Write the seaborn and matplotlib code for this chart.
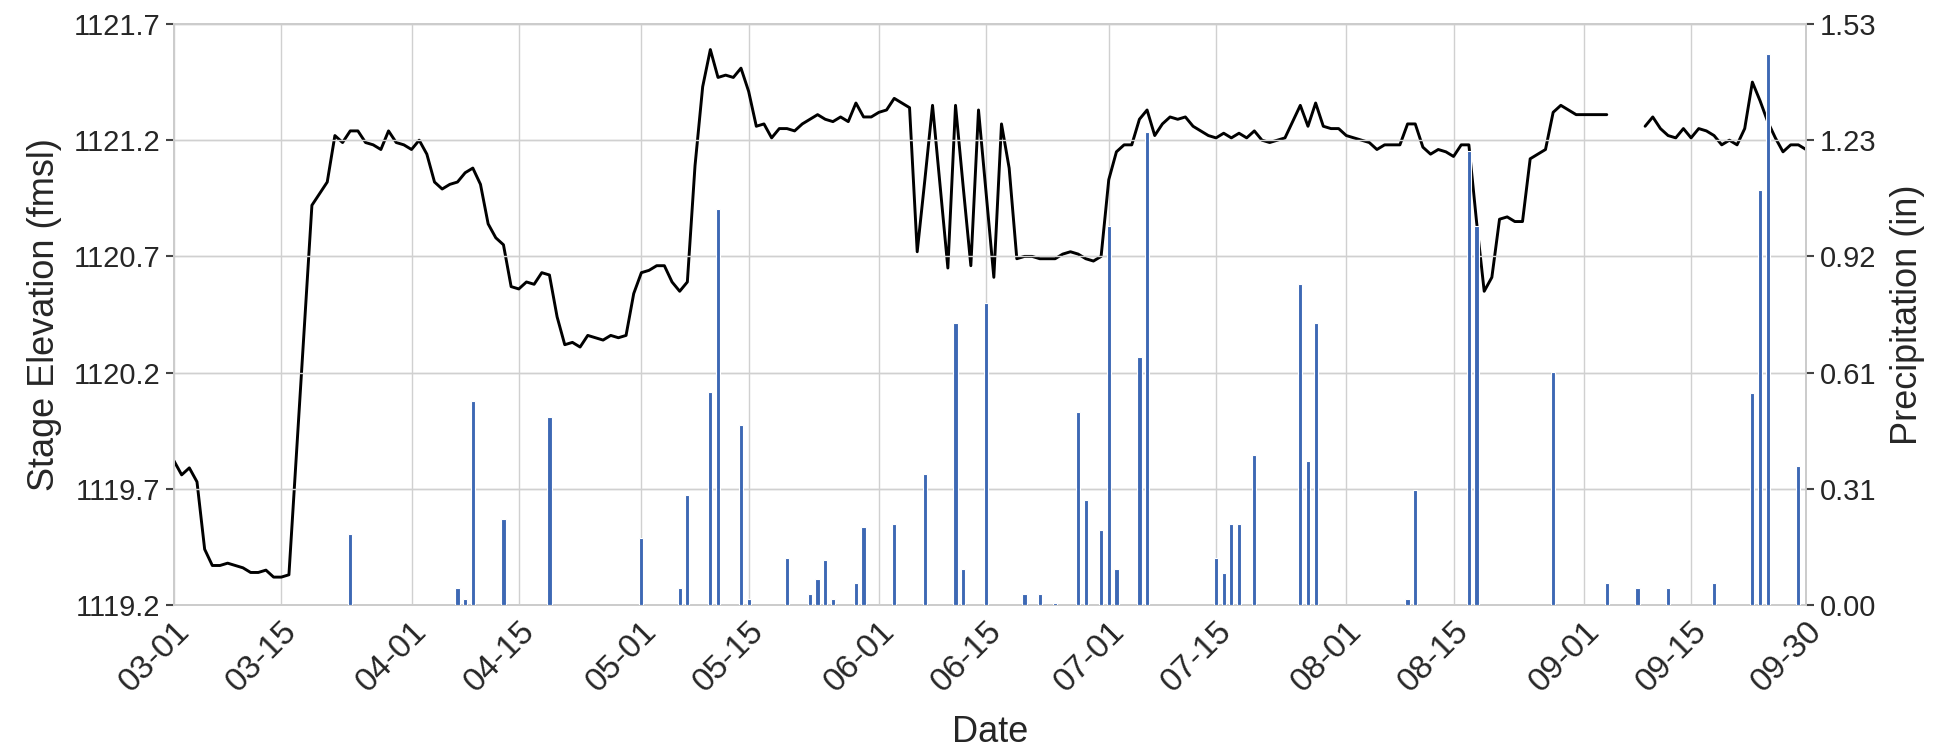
import numpy as np
import pandas as pd
import matplotlib
matplotlib.use("Agg")
import matplotlib.pyplot as plt
import seaborn as sns

# ---- data ----
start_date = "2021-03-01"
end_date = "2021-09-30"

stage_elev = [
    1119.82, 1119.76, 1119.79, 1119.73, 1119.44, 1119.37, 1119.37, 1119.38, 1119.37, 1119.36,
    1119.34, 1119.34, 1119.35, 1119.32, 1119.32, 1119.33, 1119.86, 1120.39, 1120.92, 1120.97,
    1121.02, 1121.22, 1121.19, 1121.24, 1121.24, 1121.19, 1121.18, 1121.16, 1121.24, 1121.19,
    1121.18, 1121.16, 1121.20, 1121.14, 1121.02, 1120.99, 1121.01, 1121.02, 1121.06, 1121.08,
    1121.01, 1120.84, 1120.78, 1120.75, 1120.57, 1120.56, 1120.59, 1120.58, 1120.63, 1120.62,
    1120.44, 1120.32, 1120.33, 1120.31, 1120.36, 1120.35, 1120.34, 1120.36, 1120.35, 1120.36,
    1120.54, 1120.63, 1120.64, 1120.66, 1120.66, 1120.59, 1120.55, 1120.59, 1121.09, 1121.43,
    1121.59, 1121.47, 1121.48, 1121.47, 1121.51, 1121.41, 1121.26, 1121.27, 1121.21, 1121.25,
    1121.25, 1121.24, 1121.27, 1121.29, 1121.31, 1121.29, 1121.28, 1121.30, 1121.28, 1121.36,
    1121.30, 1121.30, 1121.32, 1121.33, 1121.38, 1121.36, 1121.34, 1120.72, 1121.03, 1121.35,
    1121.00, 1120.65, 1121.35, 1121.00, 1120.66, 1121.33, 1120.97, 1120.61, 1121.27, 1121.08,
    1120.69, 1120.70, 1120.70, 1120.69, 1120.69, 1120.69, 1120.71, 1120.72, 1120.71, 1120.69,
    1120.68, 1120.70, 1121.03, 1121.15, 1121.18, 1121.18, 1121.29, 1121.33, 1121.22, 1121.27,
    1121.30, 1121.29, 1121.30, 1121.26, 1121.24, 1121.22, 1121.21, 1121.23, 1121.21, 1121.23,
    1121.21, 1121.24, 1121.20, 1121.19, 1121.20, 1121.21, 1121.28, 1121.35, 1121.26, 1121.36,
    1121.26, 1121.25, 1121.25, 1121.22, 1121.21, 1121.20, 1121.19, 1121.16, 1121.18, 1121.18,
    1121.18, 1121.27, 1121.27, 1121.17, 1121.14, 1121.16, 1121.15, 1121.13, 1121.18, 1121.18,
    1120.85, 1120.55, 1120.61, 1120.86, 1120.87, 1120.85, 1120.85, 1121.12, 1121.14, 1121.16,
    1121.32, 1121.35, 1121.33, 1121.31, 1121.31, 1121.31, 1121.31, 1121.31, np.nan, np.nan,
    np.nan, np.nan, 1121.26, 1121.30, 1121.25, 1121.22, 1121.21, 1121.25, 1121.21, 1121.25,
    1121.24, 1121.22, 1121.18, 1121.20, 1121.18, 1121.25, 1121.45, 1121.37, 1121.28, 1121.21,
    1121.15, 1121.18, 1121.18, 1121.16,
]

precip_dates = [
    "03-24", "04-07", "04-08", "04-09", "04-13", "04-19", "05-01", "05-06", "05-07", "05-10",
    "05-11", "05-14", "05-15", "05-20", "05-23", "05-24", "05-25", "05-26", "05-29", "05-30",
    "06-03", "06-07", "06-11", "06-12", "06-15", "06-20", "06-22", "06-24", "06-27", "06-28",
    "06-30", "07-01", "07-02", "07-05", "07-06", "07-15", "07-16", "07-17", "07-18", "07-20",
    "07-26", "07-27", "07-28", "08-09", "08-10", "08-17", "08-18", "08-28", "09-04", "09-08",
    "09-12", "09-18", "09-23", "09-24", "09-25", "09-29",
]
precip_in = [
    0.187, 0.045, 0.017, 0.538, 0.227, 0.498, 0.176, 0.045, 0.290, 0.564,
    1.045, 0.475, 0.017, 0.124, 0.029, 0.068, 0.119, 0.017, 0.058, 0.205,
    0.215, 0.346, 0.746, 0.095, 0.797, 0.029, 0.029, 0.006, 0.509, 0.278,
    0.199, 1.000, 0.095, 0.656, 1.249, 0.124, 0.085, 0.215, 0.215, 0.395,
    0.848, 0.381, 0.746, 0.017, 0.305, 1.199, 1.000, 0.615, 0.058, 0.045,
    0.045, 0.058, 0.559, 1.096, 1.456, 0.367,
]

elev_ticks = [1119.2, 1119.7, 1120.2, 1120.7, 1121.2, 1121.7]
precip_max = 1.535
precip_tick_labels = ["0.00", "0.31", "0.61", "0.92", "1.23", "1.53"]
x_tick_labels = ["03-01", "03-15", "04-01", "04-15", "05-01", "05-15", "06-01", "06-15",
                 "07-01", "07-15", "08-01", "08-15", "09-01", "09-15", "09-30"]

# ---- frames ----
dates = pd.date_range(start_date, end_date, freq="D")
df_elev = pd.DataFrame({"Date": dates, "Stage": stage_elev})
df_rain = pd.DataFrame({"Date": pd.to_datetime(["2021-" + d for d in precip_dates]),
                        "Precip": precip_in})

# ---- style ----
sns.set_theme(style="whitegrid")
plt.rcParams["font.family"] = ["Liberation Sans", "DejaVu Sans"]
plt.rcParams["axes.edgecolor"] = "#cccccc"
plt.rcParams["grid.color"] = "#d0d0d0"
TXT = "#262626"

fig = plt.figure(figsize=(19.5, 7.56), dpi=100)
ax = fig.add_axes([174 / 1950, 1 - 605 / 756, (1806 - 174) / 1950, (605 - 24) / 756])

valid = df_elev["Stage"].notna()
seg_id = (~valid).cumsum()
for _, seg in df_elev[valid].groupby(seg_id[valid]):
    sns.lineplot(data=seg, x="Date", y="Stage", ax=ax, color="black", linewidth=2.1)

ax.set_ylim(elev_ticks[0], elev_ticks[-1])
ax.set_yticks(elev_ticks)
ax.set_yticklabels([f"{t:.1f}" for t in elev_ticks])
ax.set_xlim(pd.Timestamp(start_date), pd.Timestamp(end_date))
xt = pd.to_datetime(["2021-" + d for d in x_tick_labels])
ax.set_xticks(xt)
ax.set_xticklabels(x_tick_labels, rotation=45, ha="right", rotation_mode="anchor")
ax.set_xlabel("Date", fontsize=26, color=TXT, labelpad=12)
ax.set_ylabel("Stage Elevation (fmsl)", fontsize=26, color=TXT, labelpad=8)
ax.tick_params(axis="y", labelsize=21, length=6, width=1.5, color="#444444",
               labelcolor=TXT, left=True, pad=4)
ax.tick_params(axis="x", labelsize=24, length=0, labelcolor=TXT, pad=8)

ax2 = ax.twinx()
ax2.bar(df_rain["Date"], df_rain["Precip"], width=0.55, color="#3D68B4",
        edgecolor="white", linewidth=0.8, zorder=3)
ax2.set_ylim(0, precip_max)
ax2.set_yticks(np.linspace(0, precip_max, 6))
ax2.set_yticklabels(precip_tick_labels)
ax2.set_ylabel("Precipitation (in)", fontsize=26, color=TXT, labelpad=10)
ax2.tick_params(axis="y", labelsize=21, length=6, width=1.5, color="#444444",
                labelcolor=TXT, right=True, pad=4)
ax2.grid(True, color="#d0d0d0")
ax2.set_xlim(pd.Timestamp(start_date), pd.Timestamp(end_date))
for s in ax2.spines.values():
    s.set_color("#cccccc")

fig.savefig("out.png", dpi=100)
